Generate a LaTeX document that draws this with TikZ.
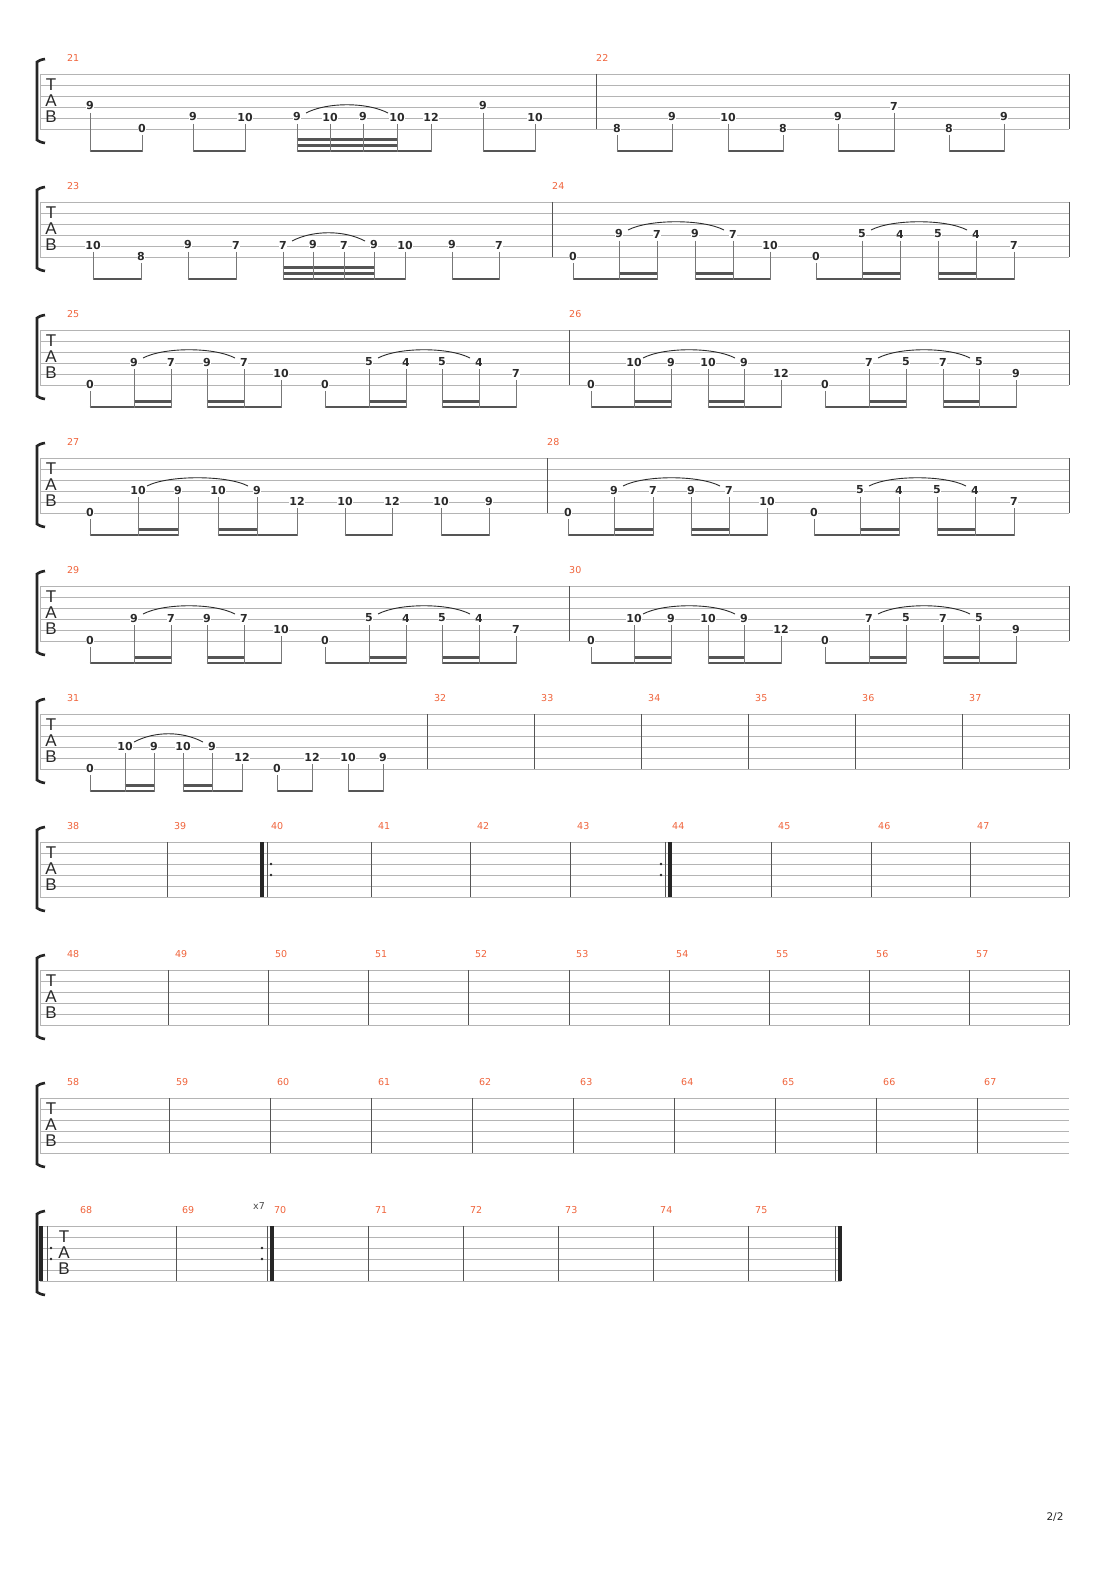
\documentclass[tikz,border=0pt]{standalone}
\usepackage{fontspec}
\setmainfont{DejaVu Sans}
\newfontfamily\fretf{DejaVu Sans}
\newfontfamily\tabf{Liberation Sans}
\definecolor{staffc}{HTML}{B4B4B4}
\definecolor{barc}{HTML}{555555}
\definecolor{notec}{HTML}{2A2A2A}
\definecolor{numc}{HTML}{F0643C}
\tikzset{
  staffline/.style={draw=staffc,line width=0.8pt},
  barline/.style={draw=barc,line width=1pt},
  stemline/.style={draw=barc!80,line width=1pt},
  beamline/.style={draw=barc,line width=2.6pt},
  fretnum/.style={font=\fretf\bfseries\fontsize{11}{11}\selectfont,fill=white,inner sep=0.6pt,text=notec},
  mnumber/.style={font=\fontsize{9.5}{9.5}\selectfont,text=numc,anchor=west,inner sep=0pt},
  tabletter/.style={font=\tabf\fontsize{17}{17}\selectfont,text=notec,inner sep=0pt},
  slurline/.style={draw=notec,line width=0.9pt},
}
\newcommand\tabstaff[3]{% top, xstart, xend
  \foreach \i in {0,...,5}{\draw[staffline] (#2,#1+\i*11) -- (#3,#1+\i*11);}
  \draw[staffline] (#2,#1) -- (#2,#1+55);}
\newcommand\tabletters[2]{% x, top
  \node[tabletter] at (#1,#2+11) {T};
  \node[tabletter] at (#1,#2+27) {A};
  \node[tabletter] at (#1,#2+43) {B};}
\newcommand\brkt[1]{%
  \draw[line width=2.6pt,draw=black!85] (45,#1-15) .. controls (40,#1-14) .. (37,#1-12) -- (37,#1+66) .. controls (40,#1+68) .. (45,#1+69);}
\newcommand\barl[2]{\draw[barline] (#1,#2) -- (#1,#2+55);}
\newcommand\thickbar[2]{\draw[draw=black!85,line width=3.5pt] (#1,#2) -- (#1,#2+55);}
\newcommand\rptdots[2]{\fill[black!85] (#1,#2+22) circle (1.3) (#1,#2+33) circle (1.3);}
\newcommand\mnum[3]{\node[mnumber] at (#1,#2-16) {#3};}
\newcommand\notes[2]{% top, list x/s/f
  \foreach \x/\s/\f in {#2}{
    \draw[stemline] (\x,#1+\s*11-5) -- (\x,#1+78);
    \node[fretnum] at (\x,#1+\s*11-12) {\f};}}
\newcommand\beams[2]{% top, list a/b/level
  \foreach \a/\b/\l in {#2}{
    \draw[beamline] (\a-0.5,#1+77-\l*5.7) -- (\b+0.5,#1+77-\l*5.7);}}
\newcommand\slur[4]{% top, x1, x2, string
  \draw[slurline] (#2+9,#1+#4*11-16) .. controls (#2+30,#1+#4*11-27) and (#3-30,#1+#4*11-27) .. (#3-9,#1+#4*11-16);}
\begin{document}
\begin{tikzpicture}[x=1pt,y=-1pt]
\useasboundingbox[fill=white] (0,0) rectangle (1110,1570);
% ---------- Row 1 ----------
\def\T{74}
\tabstaff{\T}{40}{1069}\brkt{\T}\tabletters{51}{\T}
\barl{596}{\T}\barl{1069}{\T}
\mnum{67}{\T}{21}\mnum{596}{\T}{22}
\beams{\T}{90/142/0,193/245/0,297/431/0,297/397/1,297/397/2,483/535/0,617/672/0,728/783/0,838/894/0,949/1004/0}
\notes{\T}{90/4/9,142/6/0,193/5/9,245/5/10,297/5/9,330/5/10,363/5/9,397/5/10,431/5/12,483/4/9,535/5/10,
617/6/8,672/5/9,728/5/10,783/6/8,838/5/9,894/4/7,949/6/8,1004/5/9}
\slur{\T}{297}{397}{5}
% ---------- Row 2 ----------
\def\T{202}
\tabstaff{\T}{40}{1069}\brkt{\T}\tabletters{51}{\T}
\barl{552}{\T}\barl{1069}{\T}
\mnum{67}{\T}{23}\mnum{552}{\T}{24}
\beams{\T}{93/141/0,188/236/0,283/405/0,283/374/1,283/374/2,452/499/0,
573/657/0,619/657/1,695/770/0,695/733/1,816/900/0,862/900/1,938/1014/0,938/976/1}
\notes{\T}{93/5/10,141/6/8,188/5/9,236/5/7,283/5/7,313/5/9,344/5/7,374/5/9,405/5/10,452/5/9,499/5/7,
573/6/0,619/4/9,657/4/7,695/4/9,733/4/7,770/5/10,816/6/0,862/4/5,900/4/4,938/4/5,976/4/4,1014/5/7}
\slur{\T}{283}{374}{5}\slur{\T}{619}{733}{4}\slur{\T}{862}{976}{4}
% ---------- Row 3 & 5 ----------
\foreach \T/\ma/\mb in {330/25/26,586/29/30}{
\tabstaff{\T}{40}{1069}\brkt{\T}\tabletters{51}{\T}
\barl{569}{\T}\barl{1069}{\T}
\mnum{67}{\T}{\ma}\mnum{569}{\T}{\mb}
\beams{\T}{90/171/0,134/171/1,207/281/0,207/244/1,325/406/0,369/406/1,442/516/0,442/479/1,
591/671/0,634/671/1,708/781/0,708/744/1,825/906/0,869/906/1,943/1016/0,943/979/1}
\notes{\T}{90/6/0,134/4/9,171/4/7,207/4/9,244/4/7,281/5/10,325/6/0,369/4/5,406/4/4,442/4/5,479/4/4,516/5/7,
591/6/0,634/4/10,671/4/9,708/4/10,744/4/9,781/5/12,825/6/0,869/4/7,906/4/5,943/4/7,979/4/5,1016/5/9}
\slur{\T}{134}{244}{4}\slur{\T}{369}{479}{4}\slur{\T}{634}{744}{4}\slur{\T}{869}{979}{4}
}
% ---------- Row 4 ----------
\def\T{458}
\tabstaff{\T}{40}{1069}\brkt{\T}\tabletters{51}{\T}
\barl{547}{\T}\barl{1069}{\T}
\mnum{67}{\T}{27}\mnum{547}{\T}{28}
\beams{\T}{90/178/0,138/178/1,218/297/0,218/257/1,345/392/0,441/489/0,
568/653/0,614/653/1,691/767/0,691/729/1,814/899/0,860/899/1,937/1014/0,937/975/1}
\notes{\T}{90/6/0,138/4/10,178/4/9,218/4/10,257/4/9,297/5/12,345/5/10,392/5/12,441/5/10,489/5/9,
568/6/0,614/4/9,653/4/7,691/4/9,729/4/7,767/5/10,814/6/0,860/4/5,899/4/4,937/4/5,975/4/4,1014/5/7}
\slur{\T}{138}{257}{4}\slur{\T}{614}{729}{4}\slur{\T}{860}{975}{4}
% ---------- Row 6 ----------
\def\T{714}
\tabstaff{\T}{40}{1069}\brkt{\T}\tabletters{51}{\T}
\foreach \b/\n in {427/32,534/33,641/34,748/35,855/36,962/37}{\barl{\b}{\T}\mnum{\b+7}{\T}{\n}}
\barl{1069}{\T}\mnum{67}{\T}{31}
\beams{\T}{90/154/0,125/154/1,183/242/0,183/212/1,277/312/0,348/383/0}
\notes{\T}{90/6/0,125/4/10,154/4/9,183/4/10,212/4/9,242/5/12,277/6/0,312/5/12,348/5/10,383/5/9}
\slur{\T}{125}{212}{4}
% ---------- Row 7 ----------
\def\T{842}
\tabstaff{\T}{40}{1069}\brkt{\T}\tabletters{51}{\T}
\mnum{67}{\T}{38}
\foreach \b/\n in {167/39,371/41,470/42,570/43,771/45,871/46,970/47}{\barl{\b}{\T}\mnum{\b+7}{\T}{\n}}
\thickbar{262}{\T}\barl{267}{\T}\rptdots{271}{\T}\mnum{271}{\T}{40}
\rptdots{661}{\T}\barl{665}{\T}\thickbar{670}{\T}\mnum{672}{\T}{44}
\barl{1069}{\T}
% ---------- Row 8 ----------
\def\T{970}
\tabstaff{\T}{40}{1069}\brkt{\T}\tabletters{51}{\T}
\mnum{67}{\T}{48}
\foreach \b/\n in {168/49,268/50,368/51,468/52,569/53,669/54,769/55,869/56,969/57}{\barl{\b}{\T}\mnum{\b+7}{\T}{\n}}
\barl{1069}{\T}
% ---------- Row 9 ----------
\def\T{1098}
\tabstaff{\T}{40}{1069}\brkt{\T}\tabletters{51}{\T}
\mnum{67}{\T}{58}
\foreach \b/\n in {169/59,270/60,371/61,472/62,573/63,674/64,775/65,876/66,977/67}{\barl{\b}{\T}\mnum{\b+7}{\T}{\n}}
% ---------- Row 10 ----------
\def\T{1226}
\tabstaff{\T}{40}{841}\brkt{\T}
\thickbar{41}{\T}\barl{47}{\T}\rptdots{51}{\T}\tabletters{64}{\T}
\mnum{80}{\T}{68}
\barl{176}{\T}\mnum{182}{\T}{69}
\rptdots{262}{\T}\barl{267}{\T}\thickbar{272}{\T}\mnum{274}{\T}{70}
\node[font=\fontsize{9.5}{9.5}\selectfont,text=black!70,inner sep=0pt] at (259,1206) {x7};
\foreach \b/\n in {368/71,463/72,558/73,653/74,748/75}{\barl{\b}{\T}\mnum{\b+7}{\T}{\n}}
\barl{835}{\T}\thickbar{840}{\T}
% page number
\node[font=\fontsize{10.5}{10.5}\selectfont,text=black!85,inner sep=0pt] at (1055,1517) {2/2};
\end{tikzpicture}
\end{document}
